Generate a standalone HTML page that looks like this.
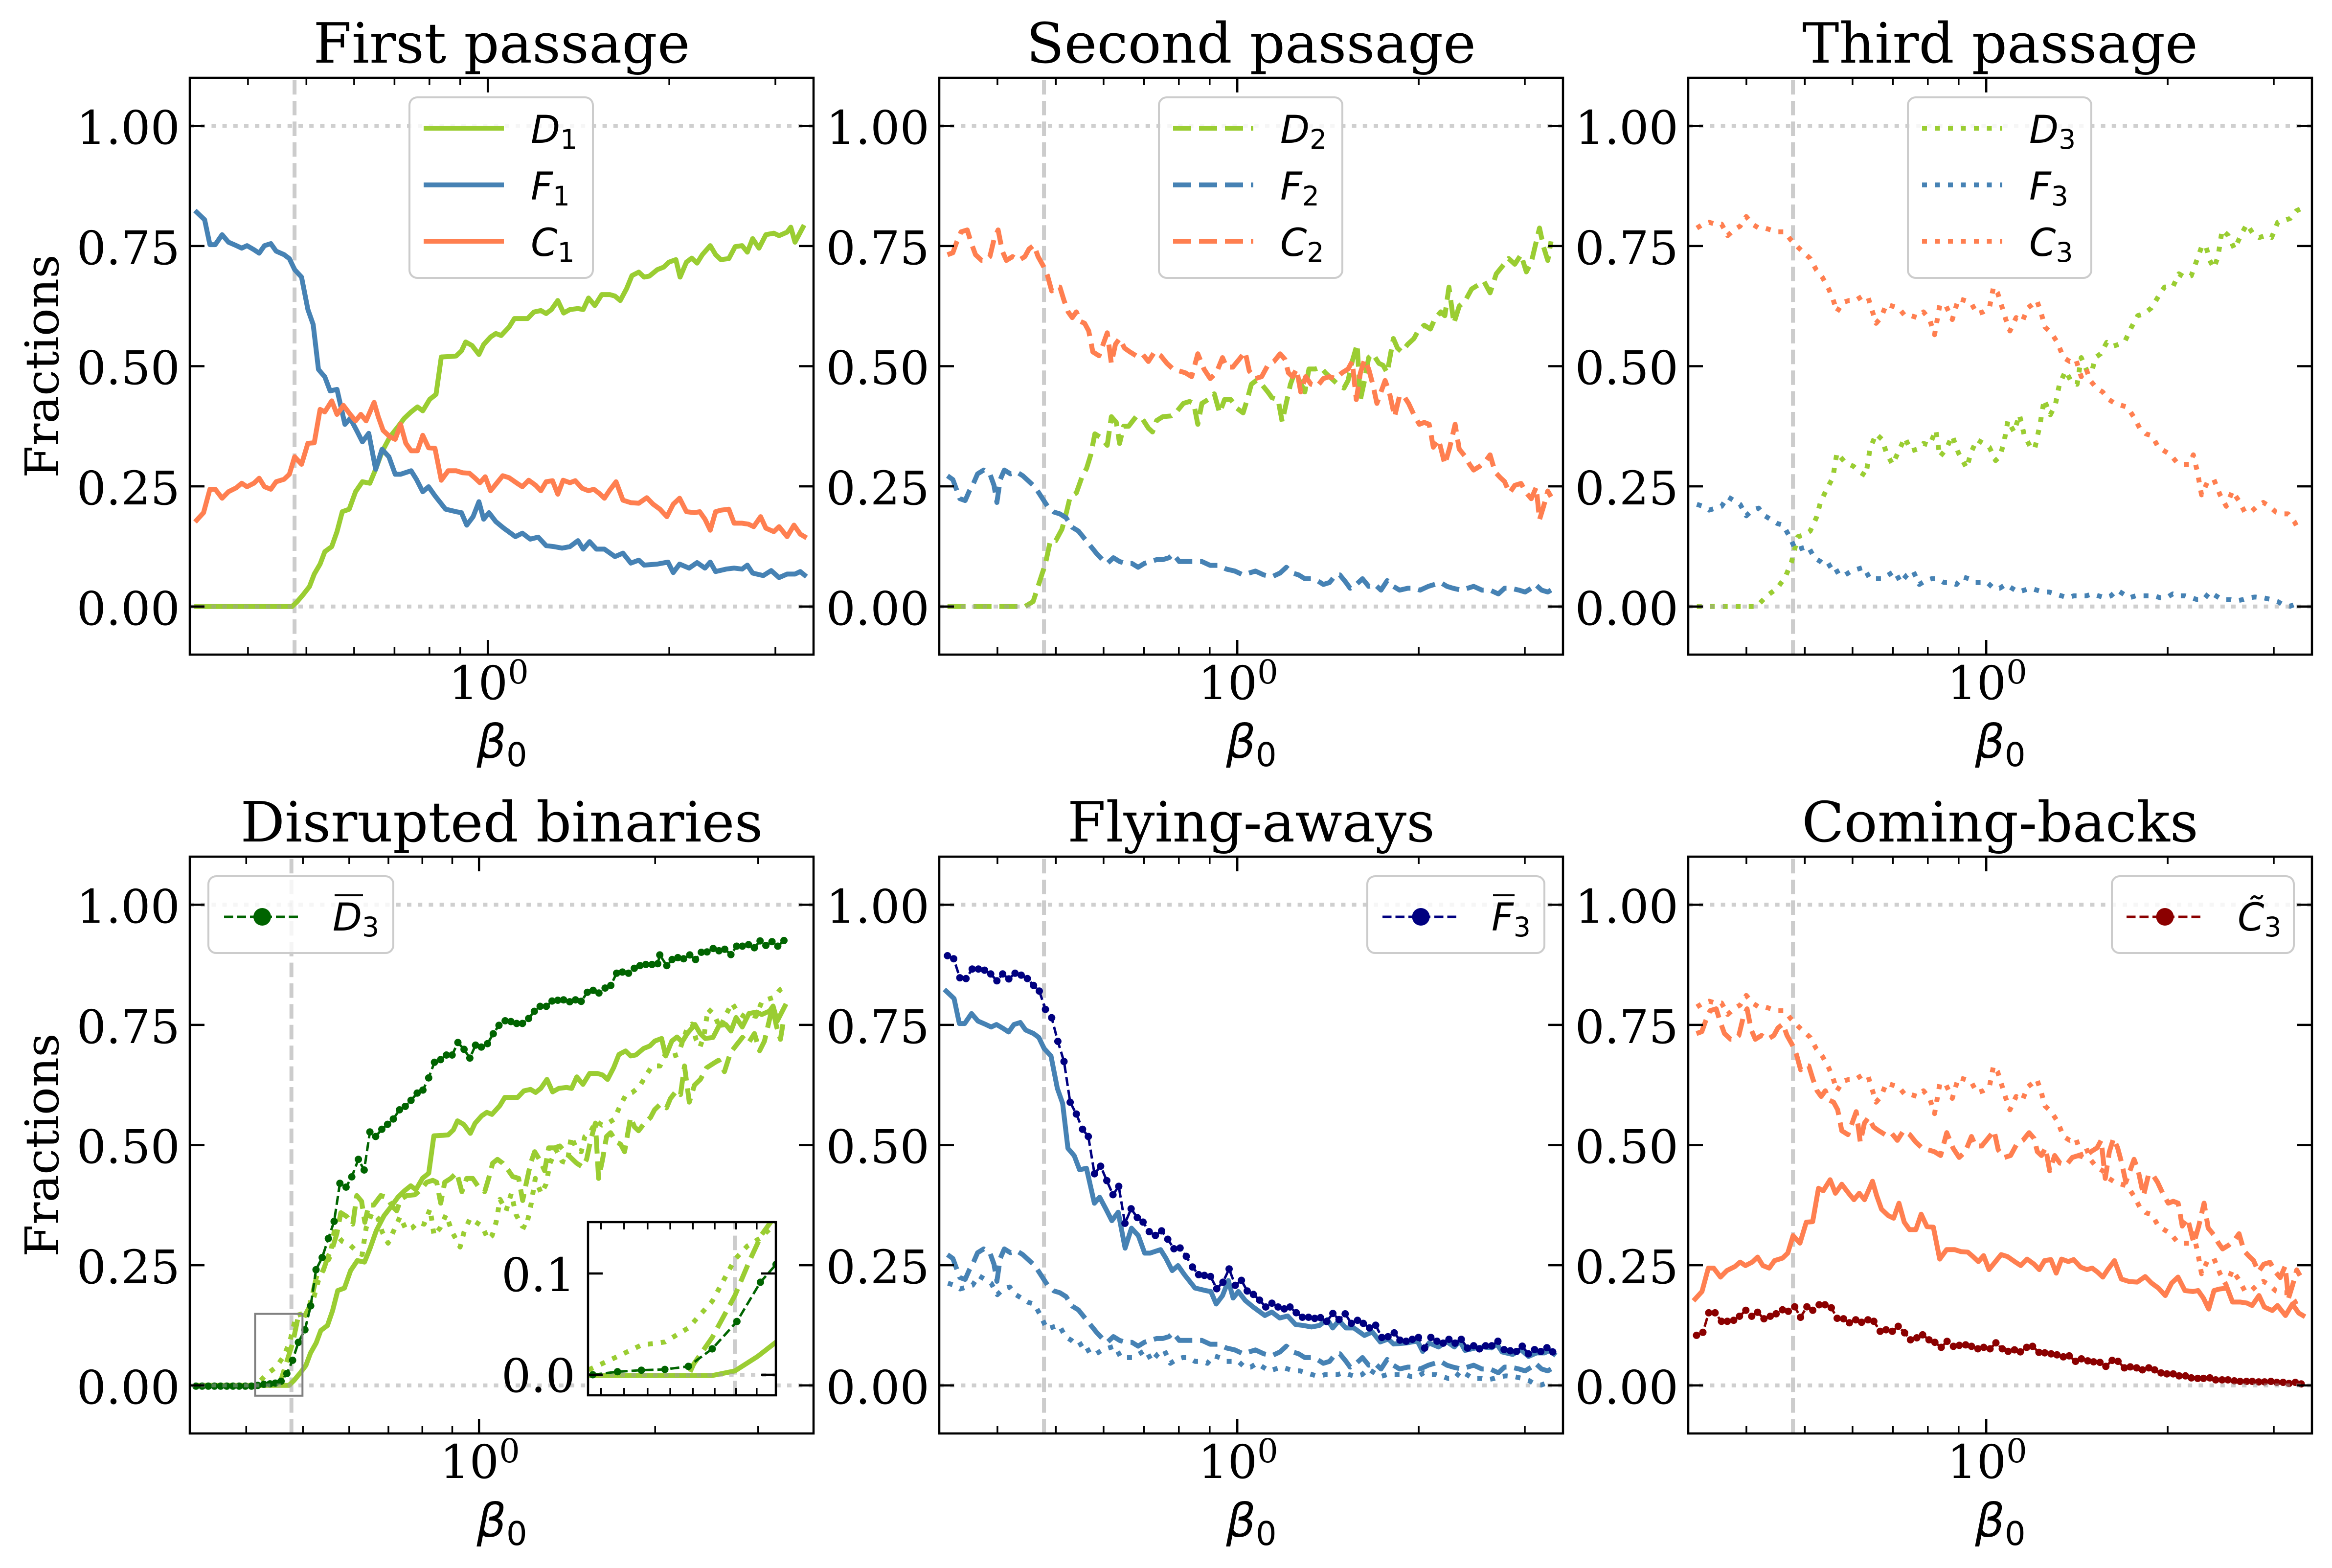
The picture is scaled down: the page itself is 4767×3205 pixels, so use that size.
<!DOCTYPE html>
<html><head><meta charset="utf-8">
<style>
html,body{margin:0;padding:0;background:#fff;}
svg{display:block;}
.sf{font-family:"DejaVu Serif","Liberation Serif",serif;fill:#000;}
.tk{font-size:95px;}
.tt{font-size:113px;}
.lb{font-size:95px;}
.ss{font-family:"DejaVu Sans","Liberation Sans",sans-serif;fill:#000;}
.lg{font-size:78px;}
</style></head><body>
<svg id="fig" xmlns="http://www.w3.org/2000/svg" width="4767" height="3205" viewBox="0 0 4767 3205">
<rect x="0" y="0" width="4767" height="3205" fill="#fff"/>
<defs id="defs"></defs>
<g id="Lv"></g>
<g id="Lc"></g>
<g id="Lh"></g>
<g id="Lax"></g>
<g id="Lin"></g>
<g id="Lleg"></g>

<!-- Titles -->
<text class="sf tt" x="1025.5" y="128" text-anchor="middle">First passage</text>
<text class="sf tt" x="2557.5" y="128" text-anchor="middle">Second passage</text>
<text class="sf tt" x="4088.5" y="128" text-anchor="middle">Third passage</text>
<text class="sf tt" x="1025.5" y="1720" text-anchor="middle">Disrupted binaries</text>
<text class="sf tt" x="2557.5" y="1720" text-anchor="middle">Flying-aways</text>
<text class="sf tt" x="4088.5" y="1720" text-anchor="middle">Coming-backs</text>

<!-- Y labels -->
<text class="sf lb" transform="translate(119,748.5) rotate(-90)" text-anchor="middle">Fractions</text>
<text class="sf lb" transform="translate(119,2340.5) rotate(-90)" text-anchor="middle">Fractions</text>

<!-- Y tick labels row 1 -->
<g class="sf tk" text-anchor="end">
<text x="368" y="294">1.00</text><text x="368" y="540">0.75</text><text x="368" y="785">0.50</text><text x="368" y="1031">0.25</text><text x="368" y="1277">0.00</text>
<text x="1900" y="294">1.00</text><text x="1900" y="540">0.75</text><text x="1900" y="785">0.50</text><text x="1900" y="1031">0.25</text><text x="1900" y="1277">0.00</text>
<text x="3431" y="294">1.00</text><text x="3431" y="540">0.75</text><text x="3431" y="785">0.50</text><text x="3431" y="1031">0.25</text><text x="3431" y="1277">0.00</text>
<text x="368" y="1886">1.00</text><text x="368" y="2132">0.75</text><text x="368" y="2377">0.50</text><text x="368" y="2623">0.25</text><text x="368" y="2869">0.00</text>
<text x="1900" y="1886">1.00</text><text x="1900" y="2132">0.75</text><text x="1900" y="2377">0.50</text><text x="1900" y="2623">0.25</text><text x="1900" y="2869">0.00</text>
<text x="3431" y="1886">1.00</text><text x="3431" y="2132">0.75</text><text x="3431" y="2377">0.50</text><text x="3431" y="2623">0.25</text><text x="3431" y="2869">0.00</text>
<text x="1176" y="2639">0.1</text><text x="1176" y="2845">0.0</text>
</g>

<!-- X tick labels 10^0 -->
<g class="sf tk" text-anchor="middle">
<text x="999" y="1429">10<tspan font-size="67" dy="-32">0</tspan></text>
<text x="2531" y="1429">10<tspan font-size="67" dy="-32">0</tspan></text>
<text x="4062" y="1429">10<tspan font-size="67" dy="-32">0</tspan></text>
<text x="981" y="3021">10<tspan font-size="67" dy="-32">0</tspan></text>
<text x="2531" y="3021">10<tspan font-size="67" dy="-32">0</tspan></text>
<text x="4062" y="3021">10<tspan font-size="67" dy="-32">0</tspan></text>
</g>

<!-- X labels beta_0 -->
<g class="ss" font-size="95" text-anchor="middle">
<text x="1026" y="1549"><tspan font-style="italic">β</tspan><tspan font-size="67" dy="17">0</tspan></text>
<text x="2558" y="1549"><tspan font-style="italic">β</tspan><tspan font-size="67" dy="17">0</tspan></text>
<text x="4089" y="1549"><tspan font-style="italic">β</tspan><tspan font-size="67" dy="17">0</tspan></text>
<text x="1026" y="3141"><tspan font-style="italic">β</tspan><tspan font-size="67" dy="17">0</tspan></text>
<text x="2558" y="3141"><tspan font-style="italic">β</tspan><tspan font-size="67" dy="17">0</tspan></text>
<text x="4089" y="3141"><tspan font-style="italic">β</tspan><tspan font-size="67" dy="17">0</tspan></text>
</g>

<!-- Legend texts -->
<g class="ss lg">
<text x="1085" y="292"><tspan font-style="italic">D</tspan><tspan font-size="55" dy="12">1</tspan></text>
<text x="1085" y="408"><tspan font-style="italic">F</tspan><tspan font-size="55" dy="12">1</tspan></text>
<text x="1085" y="523"><tspan font-style="italic">C</tspan><tspan font-size="55" dy="12">1</tspan></text>
<text x="2617" y="292"><tspan font-style="italic">D</tspan><tspan font-size="55" dy="12">2</tspan></text>
<text x="2617" y="408"><tspan font-style="italic">F</tspan><tspan font-size="55" dy="12">2</tspan></text>
<text x="2617" y="523"><tspan font-style="italic">C</tspan><tspan font-size="55" dy="12">2</tspan></text>
<text x="4148" y="292"><tspan font-style="italic">D</tspan><tspan font-size="55" dy="12">3</tspan></text>
<text x="4148" y="408"><tspan font-style="italic">F</tspan><tspan font-size="55" dy="12">3</tspan></text>
<text x="4148" y="523"><tspan font-style="italic">C</tspan><tspan font-size="55" dy="12">3</tspan></text>
<text x="680" y="1902"><tspan font-style="italic">D</tspan><tspan font-size="55" dy="12">3</tspan></text>
<text x="3049" y="1902"><tspan font-style="italic">F</tspan><tspan font-size="55" dy="12">3</tspan></text>
<text x="4574" y="1902"><tspan font-style="italic">C&#771;</tspan><tspan font-size="55" dy="12">3</tspan></text>
</g>
<line x1="684" y1="1830" x2="742" y2="1830" stroke="#000" stroke-width="4"/>
<line x1="3052" y1="1830" x2="3096" y2="1830" stroke="#000" stroke-width="4"/>
</svg>

<script>
(function(){
var S='http://www.w3.org/2000/svg';
function el(t,a,p){var e=document.createElementNS(S,t);for(var k in a)e.setAttribute(k,a[k]);p.appendChild(e);return e;}
var W=1275,H=1179;
var P=[{L:388,T:159,a:.4778,b:.9663},{L:1920,T:159,a:.4778,b:.9663},{L:3451,T:159,a:.4778,b:.9663},
       {L:388,T:1751,a:.4637,b:.938},{L:1920,T:1751,a:.4778,b:.9663},{L:3451,T:1751,a:.4778,b:.9663}];
var CAL={z1:[357,1535,252,1215,.4778,.9663],z7:[22,1537,152,1413,.4778,.9663],z8:[24,1538,152,1413,.4778,.9663],
 z2:[250,1527,243,1203,.4778,.9663],z9:[20,1537,153,1416,.4637,.938],z10:[22,1537,153,1416,.4778,.9663]};
function conv(a,c){var r=[];for(var i=0;i<a.length;i+=2){var f=(a[i]-c[0])/(c[1]-c[0]);r.push([(f-c[4])/c[5],(c[3]-a[i+1])/(c[3]-c[2])]);}return r;}
function px(p,d){return [p.L+(p.a+p.b*d[0])*W,p.T+(1.1-d[1])/1.2*H];}

var D1=conv([370,1215,550,1215,560,1205,572,1190,583,1175,592,1150,603,1130,612,1105,625,1095,635,1065,645,1025,658,1020,670,985,683,965,697,968,708,940,720,905,735,875,750,855,762,838,775,825,787,815,797,823,810,800,822,790,832,715,850,714,860,713,870,703,878,685,890,692,903,710,912,690,925,675,935,668,945,672,960,655,970,638,985,638,995,638,1007,625,1020,622,1030,628,1040,620,1052,602,1063,627,1075,620,1090,618,1100,620,1110,597,1122,612,1135,590,1150,590,1160,593,1170,602,1182,578,1192,552,1205,545,1215,555,1225,553,1240,540,1252,535,1262,525,1275,520,1283,555,1295,525,1305,517,1315,527,1325,510,1340,492,1350,510,1360,520,1375,518,1387,494,1400,492,1410,505,1420,478,1432,497,1445,470,1460,467,1470,472,1485,465,1492,455,1500,485,1515,455],CAL.z1);
var F1=conv([370,425,385,440,395,490,405,490,418,470,430,485,445,492,455,497,465,492,478,500,488,507,498,492,510,488,520,503,535,510,545,518,555,540,568,555,580,620,590,650,600,740,612,755,622,783,635,780,650,850,660,838,672,862,683,885,695,868,708,940,720,900,733,915,745,950,755,950,775,943,785,960,797,985,808,975,820,993,840,1020,860,1025,870,1027,880,1052,892,1035,903,1005,912,1040,922,1027,935,1045,950,1058,972,1075,985,1068,1000,1080,1015,1076,1030,1093,1045,1095,1060,1098,1075,1095,1090,1083,1100,1100,1112,1085,1125,1100,1140,1100,1160,1115,1175,1108,1190,1128,1205,1122,1215,1132,1240,1130,1260,1126,1270,1147,1282,1130,1300,1138,1315,1127,1330,1138,1340,1126,1350,1145,1370,1140,1385,1138,1400,1140,1410,1132,1420,1148,1440,1153,1455,1143,1470,1157,1485,1150,1500,1150,1510,1145,1518,1152],CAL.z1);
var C1=conv([370,1042,383,1027,395,980,405,980,418,998,430,985,445,977,455,968,465,975,478,968,488,958,498,975,510,980,520,965,535,960,545,950,555,915,568,930,580,888,592,887,603,820,612,825,625,803,635,830,647,812,660,830,670,843,680,830,690,843,705,806,713,835,722,862,735,875,745,880,755,850,765,888,775,903,787,903,797,872,808,897,820,898,832,962,845,943,860,943,872,947,885,948,895,957,905,967,915,955,925,983,935,970,948,953,960,957,975,968,985,975,997,962,1010,972,1020,983,1030,965,1042,963,1052,990,1062,962,1075,967,1085,963,1098,978,1110,983,1120,980,1130,988,1140,998,1150,982,1162,965,1175,1002,1190,1007,1205,1008,1220,997,1232,1010,1245,1020,1258,1035,1270,1010,1282,998,1295,1025,1310,1027,1320,1025,1330,1040,1340,1062,1350,1025,1360,1022,1375,1020,1385,1048,1400,1048,1412,1050,1422,1055,1435,1035,1445,1058,1460,1065,1470,1055,1485,1075,1498,1052,1510,1070,1518,1075],CAL.z1);

var D2=conv([42,1413,230,1413,250,1400,265,1350,280,1300,292,1240,305,1240,320,1210,330,1170,340,1125,355,1115,368,1075,380,1050,390,1015,400,960,415,970,430,990,440,915,452,930,460,985,470,940,482,940,500,915,515,920,530,945,540,955,550,925,565,915,585,913,600,900,615,880,630,875,640,880,650,935,660,880,675,870,690,855,703,905,715,870,730,870,745,893,760,905,770,870,780,830,792,820,805,830,820,850,830,865,845,870,855,928,865,878,875,830,885,800,898,822,910,850,920,790,935,790,948,785,960,800,975,815,990,830,1005,840,1015,820,1025,770,1037,725,1045,870,1055,820,1065,760,1075,750,1090,775,1100,780,1110,800,1125,710,1135,735,1145,745,1160,725,1175,710,1185,690,1200,675,1215,685,1225,660,1240,640,1250,650,1260,575,1272,670,1285,625,1300,610,1315,580,1330,570,1345,560,1360,590,1375,540,1390,520,1405,500,1420,515,1435,490,1448,535,1460,510,1470,465,1480,420,1490,470,1500,505,1508,455],CAL.z7);
var F2=conv([42,1070,55,1080,72,1130,85,1135,95,1110,105,1090,115,1065,130,1055,145,1065,155,1095,162,1140,170,1080,180,1055,195,1065,210,1060,225,1070,240,1085,255,1100,270,1125,285,1150,300,1165,315,1170,330,1180,345,1205,360,1215,375,1235,390,1255,405,1275,418,1290,430,1300,445,1285,460,1295,475,1300,490,1300,505,1310,520,1300,535,1295,550,1290,565,1290,580,1285,590,1275,605,1295,620,1295,640,1295,660,1295,680,1305,700,1305,720,1315,740,1320,760,1330,775,1325,790,1320,810,1330,830,1335,850,1325,865,1310,880,1325,895,1330,910,1340,925,1340,940,1345,955,1355,970,1350,985,1330,995,1330,1010,1350,1020,1365,1035,1355,1050,1340,1065,1360,1080,1355,1095,1370,1110,1345,1125,1360,1140,1370,1160,1365,1175,1365,1190,1370,1210,1360,1225,1355,1240,1350,1255,1360,1270,1365,1290,1370,1305,1365,1320,1360,1340,1370,1360,1370,1380,1380,1395,1365,1410,1365,1430,1370,1445,1375,1460,1365,1470,1355,1485,1370,1500,1375,1508,1370],CAL.z7);
var C2=conv([42,490,55,485,65,455,75,430,90,425,100,460,110,490,125,505,135,505,145,495,155,450,165,425,175,480,185,505,200,495,215,505,230,495,240,475,252,465,262,495,275,520,285,545,295,585,305,575,315,575,325,610,335,640,345,655,355,640,365,665,375,670,385,690,395,745,410,755,420,725,430,695,440,775,450,725,460,710,472,735,485,745,500,755,515,750,530,770,545,745,560,755,575,775,590,790,605,795,620,800,635,810,650,750,665,790,680,815,695,800,710,760,720,785,735,785,750,765,765,745,775,795,790,815,805,810,820,780,835,770,850,750,862,765,870,800,880,810,890,790,900,850,912,810,925,830,940,835,955,815,970,810,985,815,1000,800,1015,790,1025,770,1035,870,1045,800,1055,765,1065,790,1075,830,1085,880,1095,850,1105,820,1115,850,1128,915,1140,860,1150,860,1162,880,1175,910,1188,935,1200,930,1212,935,1222,995,1235,975,1250,1040,1262,995,1275,935,1285,1000,1300,1020,1310,1040,1320,1055,1335,1045,1350,1030,1360,1015,1372,1060,1385,1075,1395,1085,1407,1115,1420,1095,1435,1090,1448,1115,1460,1130,1472,1100,1480,1185,1490,1150,1500,1110,1508,1125],CAL.z7);

var D3=conv([45,1413,190,1413,215,1385,240,1365,260,1335,275,1295,290,1230,305,1225,320,1215,335,1180,345,1140,360,1105,375,1075,385,1010,405,1035,425,1045,440,1060,455,1070,465,1000,480,960,495,975,505,1010,520,1040,535,1005,550,970,565,1005,580,1000,595,985,610,990,625,950,635,1020,650,1000,665,965,680,1010,700,1050,710,1010,725,975,740,985,755,995,770,1030,780,1020,790,985,800,925,815,955,828,910,840,965,855,995,865,1000,878,935,888,870,903,910,915,885,925,830,940,795,955,825,968,830,978,760,992,795,1003,800,1012,760,1025,750,1040,720,1055,730,1070,725,1085,715,1100,680,1115,650,1130,645,1148,630,1165,600,1180,575,1200,575,1215,540,1230,550,1245,545,1260,500,1270,470,1280,465,1290,505,1300,525,1310,495,1320,425,1335,440,1350,475,1365,440,1380,410,1395,435,1410,445,1425,440,1440,445,1455,405,1470,400,1485,395,1500,375,1510,370],CAL.z8);
var F3=conv([45,1145,60,1150,75,1160,90,1155,105,1150,120,1125,135,1135,150,1145,165,1175,180,1160,195,1155,210,1175,225,1185,240,1195,255,1200,270,1230,285,1265,300,1260,315,1255,330,1285,345,1295,360,1310,375,1300,390,1330,405,1330,420,1320,435,1315,450,1310,465,1340,480,1340,495,1340,510,1330,525,1320,540,1350,555,1330,570,1320,585,1355,600,1345,615,1340,630,1340,645,1350,660,1350,675,1355,690,1335,705,1340,720,1350,735,1350,750,1350,765,1365,780,1365,795,1355,810,1365,825,1375,840,1370,855,1365,870,1370,885,1375,900,1375,915,1380,930,1385,945,1390,960,1385,975,1385,990,1385,1005,1380,1020,1385,1035,1390,1050,1385,1065,1370,1080,1380,1095,1390,1110,1385,1125,1385,1140,1385,1155,1385,1170,1390,1185,1390,1200,1380,1215,1385,1230,1385,1245,1390,1260,1395,1275,1395,1290,1375,1305,1385,1320,1395,1340,1395,1355,1398,1370,1395,1385,1390,1400,1388,1420,1390,1440,1395,1455,1400,1470,1410,1485,1412,1495,1408,1508,1395],CAL.z8);
var C3=conv([45,420,60,410,75,405,90,410,105,410,120,440,135,425,150,415,165,390,180,410,195,420,210,420,225,425,240,430,258,430,272,450,290,470,305,485,320,500,335,530,350,550,365,580,375,605,385,640,400,615,415,610,430,610,445,600,460,600,470,635,480,670,492,655,505,620,520,625,535,630,550,650,565,650,580,655,595,640,610,660,622,700,635,620,650,625,665,660,680,605,695,610,710,615,725,645,740,640,755,630,765,575,775,590,785,625,795,660,805,690,820,655,835,665,848,630,860,620,870,610,880,640,890,680,905,695,920,720,935,760,950,770,965,765,978,810,990,790,1000,820,1015,840,1030,850,1045,870,1060,880,1075,885,1090,890,1105,915,1120,945,1135,960,1150,965,1165,995,1180,1005,1195,1015,1210,1035,1225,1040,1240,1040,1250,1015,1260,1060,1270,1120,1285,1085,1300,1080,1315,1120,1330,1150,1345,1110,1360,1135,1375,1165,1390,1165,1405,1150,1420,1140,1435,1150,1450,1165,1465,1170,1480,1170,1495,1190,1505,1210],CAL.z8);

var CB=conv([267,1103,280,1097,292,1058,305,1058,318,1075,330,1075,343,1073,355,1065,368,1053,380,1065,392,1057,405,1070,418,1065,430,1060,443,1052,455,1055,468,1046,480,1067,493,1046,505,1053,518,1042,530,1042,543,1048,555,1069,568,1070,580,1078,593,1072,605,1077,618,1072,630,1075,643,1095,655,1092,668,1095,680,1085,693,1098,705,1112,718,1108,730,1102,743,1112,755,1117,768,1127,780,1115,793,1125,805,1123,818,1122,830,1125,843,1130,855,1127,868,1130,880,1118,893,1130,905,1135,918,1132,930,1136,943,1127,955,1125,968,1137,980,1138,993,1140,1005,1142,1018,1146,1030,1144,1043,1155,1055,1150,1068,1154,1080,1156,1093,1157,1105,1165,1118,1153,1130,1155,1143,1168,1155,1166,1168,1168,1180,1172,1193,1168,1205,1172,1218,1178,1230,1180,1243,1180,1255,1184,1268,1184,1280,1188,1293,1189,1305,1189,1318,1188,1330,1192,1343,1192,1355,1192,1368,1194,1380,1195,1393,1195,1405,1195,1418,1196,1430,1196,1443,1195,1455,1197,1468,1197,1480,1199,1493,1197,1505,1200],CAL.z2);
var DB=conv([35,1418,50,1418,65,1418,80,1418,95,1418,110,1418,125,1418,140,1418,155,1418,170,1418,185,1416,200,1413,215,1412,228,1410,242,1405,256,1385,270,1350,284,1303,300,1270,314,1207,327,1112,342,1080,357,1030,371,985,385,885,400,895,414,868,430,822,444,850,458,750,472,762,487,743,501,730,515,716,530,692,544,683,558,667,573,648,587,640,601,608,615,567,630,560,644,548,658,548,672,515,687,533,701,556,715,522,729,527,744,518,758,492,772,470,787,458,801,460,815,465,829,465,844,452,858,433,872,420,887,420,901,406,915,404,929,403,944,408,958,403,972,407,987,383,1001,378,1015,385,1030,372,1044,365,1058,333,1072,330,1087,333,1101,320,1115,313,1129,310,1144,310,1158,308,1163,285,1180,313,1193,297,1207,292,1221,295,1236,285,1250,297,1264,278,1278,277,1293,268,1307,274,1321,270,1336,284,1350,262,1364,262,1379,258,1393,266,1407,248,1421,260,1436,250,1450,262,1465,247],CAL.z9);
var FB=conv([42,287,57,295,72,345,87,347,102,322,117,322,132,325,147,335,162,353,176,335,191,348,206,333,221,338,236,347,251,365,265,380,280,428,295,450,310,512,325,565,340,672,355,703,370,743,384,762,399,860,414,840,429,878,444,915,458,893,473,990,488,952,503,975,517,987,532,1012,547,1022,562,1010,577,1032,592,1057,607,1055,622,1077,637,1105,652,1125,666,1127,681,1130,696,1162,711,1145,726,1110,741,1153,756,1140,770,1168,785,1177,800,1192,815,1210,830,1200,845,1210,860,1215,874,1210,889,1225,904,1237,919,1237,934,1240,948,1238,963,1248,978,1227,993,1243,1008,1228,1023,1253,1038,1245,1052,1253,1067,1265,1082,1258,1097,1290,1112,1288,1127,1278,1141,1297,1156,1300,1171,1295,1186,1290,1201,1318,1216,1290,1231,1300,1246,1305,1260,1295,1275,1305,1290,1295,1305,1318,1320,1312,1334,1320,1349,1312,1364,1312,1379,1300,1394,1322,1409,1325,1424,1327,1438,1313,1453,1333,1468,1322,1483,1327,1498,1317,1512,1328],CAL.z10);

var GR='#9acd32',BL='#4682b4',CO='#ff7f50',DG='#006400',NV='#000080',DR='#8b0000';
var STY={s:{'stroke-width':10,'stroke-linecap':'square'},
 d:{'stroke-width':10,'stroke-dasharray':'37 16','stroke-linecap':'butt'},
 o:{'stroke-width':10,'stroke-dasharray':'10 16.5','stroke-linecap':'butt'},
 m:{'stroke-width':5,'stroke-dasharray':'18.5 8','stroke-linecap':'butt'}};
function drawPx(g,pts,col,kind){
  var s='';for(var i=0;i<pts.length;i++){s+=(i?'L':'M')+pts[i][0].toFixed(1)+','+pts[i][1].toFixed(1);}
  var a={d:s,fill:'none',stroke:col,'stroke-linejoin':'round'};var st=STY[kind];for(var k in st)a[k]=st[k];
  el('path',a,g);
  if(kind==='m'){for(var j=0;j<pts.length;j++)el('circle',{cx:pts[j][0].toFixed(1),cy:pts[j][1].toFixed(1),r:7.5,fill:col},g);}
}
function draw(g,p,data,col,kind){drawPx(g,data.map(function(d){return px(p,d);}),col,kind);}

var defs=document.getElementById('defs');
P.forEach(function(p,i){var cp=el('clipPath',{id:'cp'+i},defs);el('rect',{x:p.L,y:p.T,width:W,height:H},cp);});
var cpi=el('clipPath',{id:'cpin'},defs);el('rect',{x:1202,y:2498,width:384,height:354},cpi);

var Lv=document.getElementById('Lv'),Lc=document.getElementById('Lc'),Lh=document.getElementById('Lh'),Lax=document.getElementById('Lax'),Lin=document.getElementById('Lin'),Lleg=document.getElementById('Lleg');

// vertical dashed and horizontal dotted lines
P.forEach(function(p){
  var x=p.L+(p.a+p.b*(-0.3207))*W;
  el('path',{d:'M'+x.toFixed(1)+','+(p.T+H)+'L'+x.toFixed(1)+','+p.T,stroke:'#cccccc','stroke-width':8,'stroke-dasharray':'29.6 12.8',fill:'none'},Lv);
  [0,1].forEach(function(v){var y=p.T+(1.1-v)/1.2*H;
    el('path',{d:'M'+p.L+','+y.toFixed(1)+'L'+(p.L+W)+','+y.toFixed(1),stroke:'#a0a0a0','stroke-opacity':0.5,'stroke-width':8,'stroke-dasharray':'9 13.2',fill:'none'},Lh);});
});

// curves
var G=P.map(function(p,i){return el('g',{'clip-path':'url(#cp'+i+')'},Lc);});
draw(G[0],P[0],D1,GR,'s');draw(G[0],P[0],F1,BL,'s');draw(G[0],P[0],C1,CO,'s');
draw(G[1],P[1],D2,GR,'d');draw(G[1],P[1],F2,BL,'d');draw(G[1],P[1],C2,CO,'d');
draw(G[2],P[2],D3,GR,'o');draw(G[2],P[2],F3,BL,'o');draw(G[2],P[2],C3,CO,'o');
draw(G[3],P[3],D1,GR,'s');draw(G[3],P[3],D2,GR,'d');draw(G[3],P[3],D3,GR,'o');draw(G[3],P[3],DB,DG,'m');
draw(G[4],P[4],F1,BL,'s');draw(G[4],P[4],F2,BL,'d');draw(G[4],P[4],F3,BL,'o');draw(G[4],P[4],FB,NV,'m');
draw(G[5],P[5],C1,CO,'s');draw(G[5],P[5],C2,CO,'d');draw(G[5],P[5],C3,CO,'o');draw(G[5],P[5],CB,DR,'m');

// axes, ticks
function ln(g,x1,y1,x2,y2,w){el('line',{x1:x1.toFixed(1),y1:y1.toFixed(1),x2:x2.toFixed(1),y2:y2.toFixed(1),stroke:'#000','stroke-width':w},g);}
var mins=[.4,.5,.6,.7,.8,.9,2,3,4].map(function(v){return Math.log(v)/Math.LN10;});
P.forEach(function(p){
  var L=p.L,T=p.T,R=L+W,B=T+H;
  [0,.25,.5,.75,1].forEach(function(v){var y=T+(1.1-v)/1.2*H;ln(Lax,L,y,L+30,y,4.5);ln(Lax,R,y,R-30,y,4.5);});
  var xm=L+p.a*W;ln(Lax,xm,T,xm,T+30,4.5);ln(Lax,xm,B,xm,B-30,4.5);
  mins.forEach(function(lx){var f=p.a+p.b*lx;if(f<=0||f>=1)return;var x=L+f*W;ln(Lax,x,T,x,T+15,3.5);ln(Lax,x,B,x,B-15,3.5);});
  el('rect',{x:L,y:T,width:W,height:H,fill:'none',stroke:'#000','stroke-width':4.5},Lax);
});
// inset indicator rectangle in panel 4
el('rect',{x:521.5,y:2685.5,width:96.8,height:167.3,fill:'none',stroke:'#808080','stroke-width':4},Lax);

// inset
function inPx(a){var r=[];for(var i=0;i<a.length;i+=2)r.push([370+a[i]*0.8418,1730+a[i+1]*0.7781]);return r;}
el('rect',{x:1202,y:2498,width:384,height:354,fill:'#fff'},Lin);
var gi=el('g',{'clip-path':'url(#cpin)'},Lin);
el('path',{d:'M1502,2852L1502,2498',stroke:'#cccccc','stroke-width':8,'stroke-dasharray':'29.6 12.8',fill:'none'},gi);
drawPx(gi,inPx([990,1390,1290,1390,1345,1378,1400,1340,1450,1298]),GR,'s');
drawPx(gi,inPx([990,1390,1232,1390,1245,1360,1290,1290,1345,1180,1380,1090,1410,1020,1440,975]),GR,'d');
drawPx(gi,inPx([990,1375,1060,1340,1118,1310,1175,1302,1232,1265,1290,1195,1345,1085,1375,1050,1405,1030,1445,990]),GR,'o');
el('path',{d:'M1202,2810L1586,2810',stroke:'#a0a0a0','stroke-opacity':0.5,'stroke-width':8,'stroke-dasharray':'9 13.2',fill:'none'},gi);
drawPx(gi,inPx([1000,1388,1060,1380,1118,1376,1175,1374,1232,1366,1290,1320,1350,1248,1407,1145,1445,1098]),DG,'m');
[1228.6,1275.8,1323.8,1370.1,1416.4,1461,1504.7,1546.8].forEach(function(x){ln(Lin,x,2498,x,2513,3.5);ln(Lin,x,2852,x,2837,3.5);});
[2603,2810].forEach(function(y){ln(Lin,1202,y,1232,y,4.5);ln(Lin,1586,y,1556,y,4.5);});
el('rect',{x:1202,y:2498,width:384,height:354,fill:'none',stroke:'#000','stroke-width':4.5},Lin);

// legends
function box(x,y,w,h){el('rect',{x:x,y:y,width:w,height:h,rx:16,ry:16,fill:'#fff','fill-opacity':0.8,stroke:'#cccccc','stroke-width':4},Lleg);}
function hline(x1,x2,y,col,kind){var a={d:'M'+x1+','+y+'L'+x2+','+y,fill:'none',stroke:col};var st=STY[kind];for(var k in st)a[k]=st[k];if(kind==='s')a['stroke-linecap']='butt';el('path',a,Lleg);}
[[0,'s'],[1,'d'],[2,'o']].forEach(function(q){var p=P[q[0]];box(p.L+449,199,375,369);
  hline(p.L+478,p.L+642,262,GR,q[1]);hline(p.L+478,p.L+642,378,BL,q[1]);hline(p.L+478,p.L+642,493,CO,q[1]);});
box(426,1791,378,157);hline(458,614,1874,DG,'m');el('circle',{cx:536,cy:1874,r:18,fill:DG},Lleg);
box(2795,1791,362,157);hline(2826,2983,1874,NV,'m');el('circle',{cx:2904.5,cy:1874,r:18,fill:NV},Lleg);
box(4317,1791,372,157);hline(4347,4504,1874,DR,'m');el('circle',{cx:4425.5,cy:1874,r:18,fill:DR},Lleg);
})();
</script>
</body></html>
